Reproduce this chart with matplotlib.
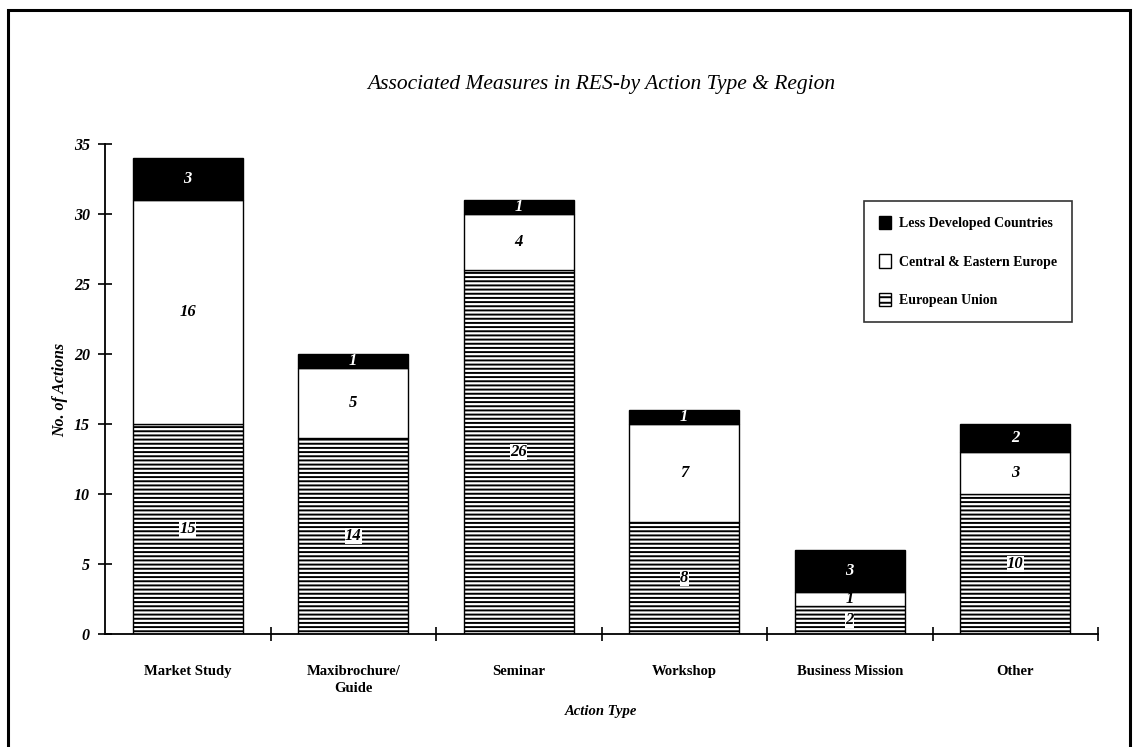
import matplotlib
matplotlib.use("Agg")
import matplotlib.pyplot as plt
from matplotlib.patches import Patch, Rectangle
import numpy as np

# Data: number of actions per action type, stacked by region
categories = ["Market Study", "Maxibrochure/\nGuide", "Seminar", "Workshop",
              "Business Mission", "Other"]
european_union = [15, 14, 26, 8, 2, 10]
central_eastern_europe = [16, 5, 4, 7, 1, 3]
less_developed = [3, 1, 1, 1, 3, 2]
y_ticks = [0, 5, 10, 15, 20, 25, 30, 35]

title = "Associated Measures in RES-by Action Type & Region"
legend_labels = ["Less Developed Countries", "Central & Eastern Europe",
                 "European Union"]

plt.rcParams["font.family"] = ["Liberation Serif", "DejaVu Serif"]
plt.rcParams["hatch.linewidth"] = 1.4
plt.rcParams["hatch.color"] = "black"

W, H = 1136, 747
fig = plt.figure(figsize=(W / 100, H / 100), dpi=100)
fig.patch.set_facecolor("white")

# page frame
fig.add_artist(Rectangle((8 / W, -0.05), (1130 - 8) / W, 1.05 - 10 / H,
                         transform=fig.transFigure, fill=False,
                         edgecolor="black", linewidth=2.2))

ax = fig.add_axes([105 / W, 1 - 634 / H, (1098 - 105) / W, (634 - 144) / H])

x = np.arange(len(categories))
width = 0.665
eu = np.array(european_union)
cee = np.array(central_eastern_europe)
ldc = np.array(less_developed)

ax.bar(x, eu, width, color="white", edgecolor="black", hatch="----",
       linewidth=1.0)
ax.bar(x, cee, width, bottom=eu, color="white", edgecolor="black",
       linewidth=1.0)
ax.bar(x, ldc, width, bottom=eu + cee, color="black", edgecolor="black",
       linewidth=1.0)

label_kw = dict(ha="center", va="center", fontsize=12, fontstyle="italic",
                fontweight="bold")
for xi, a, b, c in zip(x, eu, cee, ldc):
    ax.text(xi, a / 2, str(a), color="black",
            bbox=dict(facecolor="white", edgecolor="none", pad=0.3), **label_kw)
    ax.text(xi, a + b / 2, str(b), color="black", **label_kw)
    ax.text(xi, a + b + c / 2, str(c), color="white", **label_kw)

ax.set_xlim(-0.5, len(categories) - 0.5)
ax.set_ylim(0, 35)
ax.set_yticks(y_ticks)
ax.set_yticklabels([str(t) for t in y_ticks], fontstyle="italic",
                   fontweight="bold", fontsize=11.5)
ax.tick_params(axis="y", direction="inout", length=10, width=1.2, pad=6)

ax.set_xticks(x)
ax.set_xticklabels(categories, fontweight="bold", fontsize=10.5,
                   linespacing=1.45)
ax.tick_params(axis="x", which="major", length=0, pad=22)
ax.set_xticks(np.arange(len(categories)) + 0.5, minor=True)
ax.tick_params(axis="x", which="minor", direction="inout", length=10,
               width=1.2)

for side in ("top", "right"):
    ax.spines[side].set_visible(False)
for side in ("left", "bottom"):
    ax.spines[side].set_linewidth(1.3)

fig.text(60 / W, 1 - 390 / H, "No. of Actions", rotation=90, ha="center",
         va="center", fontstyle="italic", fontweight="bold", fontsize=11.5)
fig.text(601 / W, 1 - 712 / H, "Action Type", ha="center", va="center",
         fontstyle="italic", fontweight="bold", fontsize=10.5)

fig.text(0.5 * (105 + 1098) / W, 1 - 84 / H, title, ha="center", va="center",
         fontstyle="italic", fontsize=15.5)

handles = [
    Patch(facecolor="black", edgecolor="black"),
    Patch(facecolor="white", edgecolor="black"),
    Patch(facecolor="white", edgecolor="black", hatch="---"),
]
leg = fig.legend(handles, legend_labels, loc="upper left",
                 bbox_to_anchor=(864 / W, 1 - 201 / H),
                 frameon=True, fancybox=False, edgecolor="black",
                 prop=dict(weight="bold", size=10), handlelength=0.9,
                 handleheight=1.1, handletextpad=0.6, labelspacing=1.75,
                 borderpad=1.05, borderaxespad=0)
leg.get_frame().set_linewidth(1.2)

fig.savefig("out.png", dpi=100, facecolor="white")
